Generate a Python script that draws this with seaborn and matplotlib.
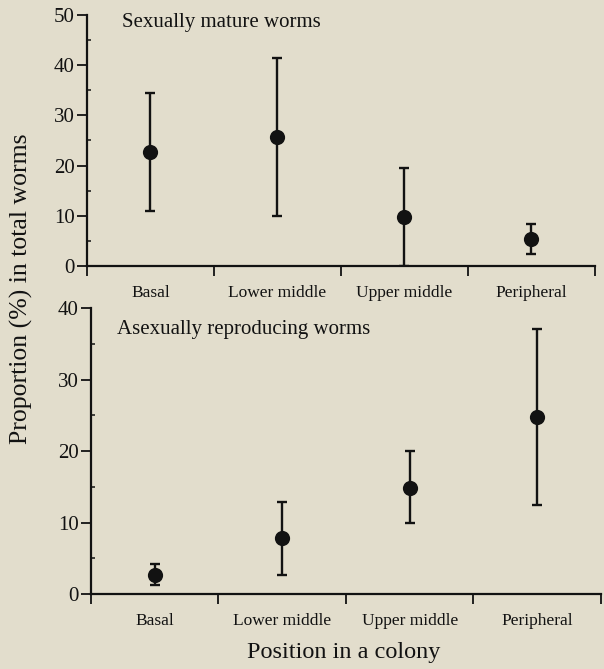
import numpy as np
import pandas as pd
import seaborn as sns
import matplotlib.pyplot as plt
from matplotlib.ticker import MultipleLocator, FixedLocator

# 位置分类
positions = ["Basal", "Lower middle", "Upper middle", "Peripheral"]

# 有性成熟个体 (%)
sexual_mean = [22.7, 25.6, 9.8, 5.4]
sexual_low = [11.0, 10.0, 0.0, 2.4]
sexual_high = [34.5, 41.4, 19.6, 8.4]

# 无性生殖个体 (%)
asexual_mean = [2.7, 7.8, 14.9, 24.8]
asexual_low = [1.2, 2.7, 10.0, 12.5]
asexual_high = [4.2, 12.9, 20.0, 37.1]

BG = "#e2ddcc"
INK = "#121212"

sns.set_style("ticks")
plt.rcParams['font.family'] = ['Liberation Serif', 'DejaVu Serif']
plt.rcParams['text.color'] = INK
plt.rcParams['axes.edgecolor'] = INK
plt.rcParams['xtick.color'] = INK
plt.rcParams['ytick.color'] = INK


def draw_panel(ax, mean, low, high, ymax, title, tx, ty):
    df = pd.DataFrame({'pos': np.arange(len(positions)), 'mean': mean,
                       'low': low, 'high': high})
    err = [df['mean'] - df['low'], df['high'] - df['mean']]
    ax.errorbar(df['pos'], df['mean'], yerr=err, fmt='none', ecolor=INK,
                elinewidth=1.7, capsize=3.5, capthick=1.7, zorder=2)
    sns.scatterplot(x='pos', y='mean', data=df, ax=ax, color=INK, s=120,
                    edgecolor=INK, linewidth=0, zorder=3, legend=False)
    ax.set_facecolor(BG)
    ax.set_xlim(-0.5, len(positions) - 0.5)
    ax.set_ylim(0, ymax)
    # 分类边界的刻度
    ax.xaxis.set_major_locator(FixedLocator(np.arange(-0.5, len(positions), 1)))
    ax.set_xticklabels([''] * (len(positions) + 1))
    ax.set_xticks(np.arange(len(positions)), positions, minor=True)
    ax.tick_params(axis='x', which='major', direction='out', length=7, width=1.3)
    ax.tick_params(axis='x', which='minor', length=0, pad=13.5, labelsize=12.5)
    ax.yaxis.set_major_locator(MultipleLocator(10))
    ax.yaxis.set_minor_locator(MultipleLocator(5))
    ax.tick_params(axis='y', which='major', direction='out', length=7,
                   width=1.3, pad=2, labelsize=15)
    ax.tick_params(axis='y', which='minor', direction='in', length=3, width=1.1)
    for s in ['top', 'right']:
        ax.spines[s].set_visible(False)
    for s in ['left', 'bottom']:
        ax.spines[s].set_linewidth(1.6)
    ax.set_xlabel('')
    ax.set_ylabel('')
    ax.text(tx, ty, title, transform=ax.transAxes, fontsize=15,
            ha='left', va='center')


fig = plt.figure(figsize=(6.04, 6.69), dpi=100, facecolor=BG)
ax1 = fig.add_axes([0.144, 0.6024, 0.841, 0.3752])
ax2 = fig.add_axes([0.1507, 0.1121, 0.844, 0.4271])

draw_panel(ax1, sexual_mean, sexual_low, sexual_high, 50,
           "Sexually mature worms", 0.069, 0.972)
draw_panel(ax2, asexual_mean, asexual_low, asexual_high, 40,
           "Asexually reproducing worms", 0.051, 0.924)

fig.text(0.036, 0.569, "Proportion (%) in total worms", rotation=90,
         ha='center', va='center', fontsize=18.5)
fig.text(0.569, 0.0254, "Position in a colony", ha='center', va='center',
         fontsize=17.5)

fig.savefig("out.png", dpi=100, facecolor=BG)
